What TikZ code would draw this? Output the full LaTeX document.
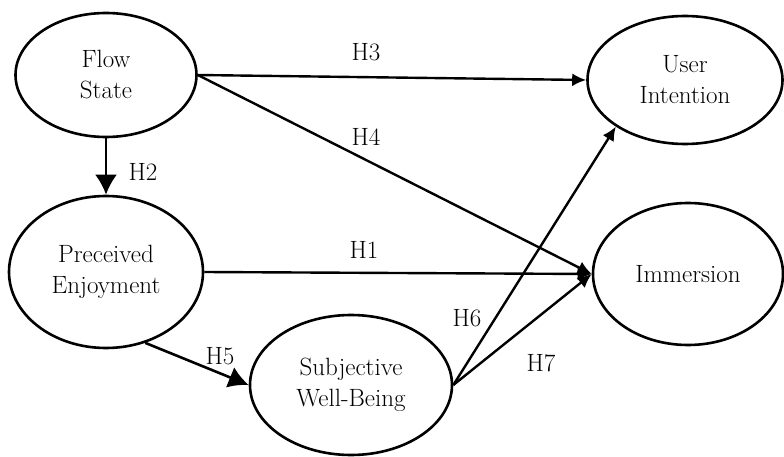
\documentclass[tikz,border=0pt]{standalone}
\usetikzlibrary{shapes.geometric,arrows.meta}
\begin{document}
\begin{tikzpicture}[x=1pt,y=-1pt,
  latent/.style={ellipse,draw,line width=2.6pt,inner sep=0pt,align=center,
    font=\fontsize{25}{31}\selectfont},
  path/.style={line width=2.4pt,-{Latex[length=14pt,width=13pt]}},
  bigpath/.style={line width=2.6pt,-{Latex[length=20pt,width=22pt]}},
  hlab/.style={font=\fontsize{25}{28}\selectfont,inner sep=0pt}]
\useasboundingbox (0,0) rectangle (784,457);
\node[latent,minimum width=181pt,minimum height=124pt] (fs) at (106,75) {Flow\\State};
\node[latent,minimum width=194pt,minimum height=152pt] (pe) at (106,272) {Preceived\\Enjoyment};
\node[latent,minimum width=195pt,minimum height=128pt] (ui) at (685,80) {User\\Intention};
\node[latent,minimum width=190pt,minimum height=142pt] (im) at (688,274) {Immersion};
\node[latent,minimum width=202pt,minimum height=140pt] (sw) at (351,385) {Subjective\\Well-Being};
\draw[path] (fs.east) -- (ui.west);
\draw[path] (fs.east) -- (im.west);
\draw[bigpath] (fs.south) -- (pe.north);
\draw[path] (pe.east) -- (im.west);
\draw[bigpath] (pe.-61) -- (sw.west);
\draw[path] (sw.east) -- (ui.214);
\draw[path] (sw.east) -- (im.west);
\node[hlab] (h3) at (366,52) {H3};
\node[hlab] (h4) at (366,137) {H4};
\node[hlab] (h2) at (143,172) {H2};
\node[hlab] (h1) at (364,250) {H1};
\node[hlab] (h5) at (220,356) {H5};
\node[hlab] (h6) at (467,318) {H6};
\node[hlab] (h7) at (541,363) {H7};
\end{tikzpicture}
\end{document}
